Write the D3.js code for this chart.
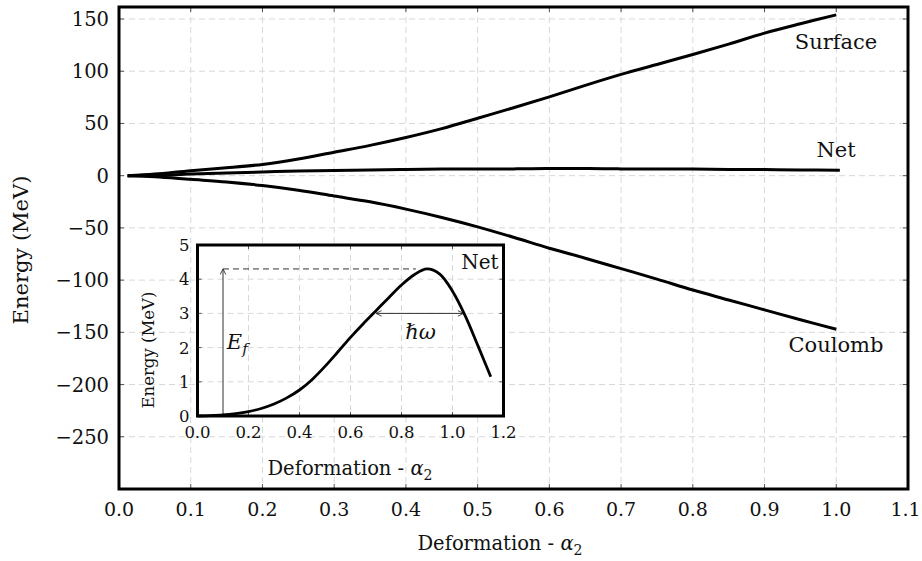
<!DOCTYPE html>
<html><head><meta charset="utf-8">
<script src="https://cdn.jsdelivr.net/npm/d3@7"></script>
<style>body{margin:0;background:#fff}svg{display:block}text{font-family:"DejaVu Serif",serif;fill:#111}</style>
</head><body><svg id="c" width="922" height="561"></svg>
<script>
// Main chart data
const mainX = [0.012,0.05,0.1,0.15,0.2,0.25,0.3,0.35,0.4,0.45,0.5,0.55,0.6,0.65,0.7,0.75,0.8,0.85,0.9,0.95,1.0];
const surface = [0,1.5,4.8,7.5,10.8,16,22.5,29,36.5,45,55,65,75.5,86.5,97,106.5,116,126,136.5,145.5,154];
const coulomb = [0,-1,-3.5,-6,-9.5,-14,-19.5,-25,-32,-40,-49,-59,-69.5,-79,-89,-99,-109.5,-119,-128.5,-138,-147];
const netX = [0.012,0.05,0.1,0.15,0.2,0.25,0.3,0.35,0.4,0.45,0.5,0.55,0.6,0.65,0.7,0.75,0.8,0.85,0.9,0.95,1.005];
const net = [0,0.3,1.5,2.5,3.5,4.5,5,5.5,6,6.3,6.5,6.5,6.8,6.8,6.5,6.5,6.3,6,5.8,5.5,5.2];
const mainXTicks = [0,0.1,0.2,0.3,0.4,0.5,0.6,0.7,0.8,0.9,1.0,1.1];
const mainYTicks = [150,100,50,0,-50,-100,-150,-200,-250];
// Inset data
const insetX = [0,0.05,0.1,0.15,0.2,0.25,0.3,0.35,0.4,0.45,0.5,0.55,0.6,0.65,0.7,0.75,0.8,0.85,0.9,0.95,1.0,1.05,1.1,1.15];
const insetNet = [0,0.01,0.03,0.07,0.13,0.22,0.35,0.53,0.76,1.07,1.45,1.87,2.3,2.7,3.08,3.46,3.83,4.13,4.3,4.15,3.65,2.93,2.05,1.15];
const insetXTicks = [0,0.2,0.4,0.6,0.8,1.0,1.2];
const insetYTicks = [0,1,2,3,4,5];
const barrier = 4.3, barrierX = 0.1, peakX = 0.88;
const hwLeft = 0.70, hwRight = 1.043, hwY = 3.0;

const svg = d3.select("#c");
const defs = svg.append("defs");
defs.append("marker").attr("id","ah").attr("viewBox","0 0 10 10").attr("refX",9).attr("refY",5)
  .attr("markerWidth",7).attr("markerHeight",7).attr("orient","auto-start-reverse")
  .append("path").attr("d","M1,1 L9,5 L1,9").attr("fill","none").attr("stroke","#333").attr("stroke-width",1.3);

// ---------- main ----------
const M = {l:119,r:908,t:7,b:489};
const x = d3.scaleLinear().domain([0,1.1]).range([M.l,M.r]);
const y = d3.scaleLinear().domain([-300,161.5]).range([M.b,M.t]);
const g = svg.append("g");
const grid = "#d8d8d8";
g.append("g").selectAll("line").data(mainXTicks.slice(1,-1)).join("line")
  .attr("x1",d=>x(d)).attr("x2",d=>x(d)).attr("y1",M.t).attr("y2",M.b)
  .attr("stroke",grid).attr("stroke-dasharray","6,4");
g.append("g").selectAll("line").data(mainYTicks).join("line")
  .attr("x1",M.l).attr("x2",M.r).attr("y1",d=>y(d)).attr("y2",d=>y(d))
  .attr("stroke",grid).attr("stroke-dasharray","6,4");
const tk = g.append("g").attr("stroke","#555").attr("stroke-width",1);
mainXTicks.forEach(d=>{tk.append("line").attr("x1",x(d)).attr("x2",x(d)).attr("y1",M.b).attr("y2",M.b-5);
  tk.append("line").attr("x1",x(d)).attr("x2",x(d)).attr("y1",M.t).attr("y2",M.t+5);});
mainYTicks.forEach(d=>{tk.append("line").attr("y1",y(d)).attr("y2",y(d)).attr("x1",M.l).attr("x2",M.l+5);
  tk.append("line").attr("y1",y(d)).attr("y2",y(d)).attr("x1",M.r).attr("x2",M.r-5);});
const fmt = d=> d<0 ? "\u2212"+Math.abs(d) : String(d);
g.append("g").selectAll("text").data(mainYTicks).join("text")
  .attr("x",M.l-10).attr("y",d=>y(d)).attr("dy","0.36em").attr("text-anchor","end")
  .attr("font-size",19.5).text(fmt);
g.append("g").selectAll("text").data(mainXTicks).join("text")
  .attr("x",(d,i)=>Math.min(x(d),920-14.5)).attr("y",M.b+27).attr("text-anchor","middle")
  .attr("font-size",19).text(d=>d.toFixed(1));
const xl = g.append("text").attr("x",500).attr("y",550).attr("text-anchor","middle").attr("font-size",19.5);
xl.append("tspan").text("Deformation - ");
xl.append("tspan").attr("font-style","italic").text("\u03b1");
xl.append("tspan").attr("font-size",14).attr("dy",5).text("2");
g.append("text").attr("transform","translate(28,250) rotate(-90)").attr("text-anchor","middle")
  .attr("font-size",21).text("Energy (MeV)");
const line = d3.line().x(d=>x(d[0])).y(d=>y(d[1])).curve(d3.curveCatmullRom);
[[mainX,surface],[mainX,coulomb],[netX,net]].forEach(([xs,ys])=>{
  g.append("path").datum(xs.map((v,i)=>[v,ys[i]])).attr("d",line)
   .attr("fill","none").attr("stroke","#000").attr("stroke-width",3).attr("stroke-linejoin","round");
});
g.append("text").attr("x",836).attr("y",49).attr("text-anchor","middle").attr("font-size",21).text("Surface");
g.append("text").attr("x",836).attr("y",157).attr("text-anchor","middle").attr("font-size",21).text("Net");
g.append("text").attr("x",836).attr("y",352).attr("text-anchor","middle").attr("font-size",21).text("Coulomb");
g.append("rect").attr("x",M.l).attr("y",M.t).attr("width",M.r-M.l).attr("height",M.b-M.t)
  .attr("fill","none").attr("stroke","#000").attr("stroke-width",3);

// ---------- inset ----------
const I = {l:197.5,r:503.5,t:245,b:416};
const xi = d3.scaleLinear().domain([0,1.2]).range([I.l,I.r]);
const yi = d3.scaleLinear().domain([0,5]).range([I.b,I.t]);
const h = svg.append("g");
h.append("rect").attr("x",I.l).attr("y",I.t).attr("width",I.r-I.l).attr("height",I.b-I.t).attr("fill","#fff");
h.append("g").selectAll("line").data(insetXTicks.slice(1,-1)).join("line")
  .attr("x1",d=>xi(d)).attr("x2",d=>xi(d)).attr("y1",I.t).attr("y2",I.b)
  .attr("stroke",grid).attr("stroke-dasharray","6,4");
h.append("g").selectAll("line").data(insetYTicks.slice(1,-1)).join("line")
  .attr("x1",I.l).attr("x2",I.r).attr("y1",d=>yi(d)).attr("y2",d=>yi(d))
  .attr("stroke",grid).attr("stroke-dasharray","6,4");
const tki = h.append("g").attr("stroke","#555").attr("stroke-width",1);
insetXTicks.forEach(d=>{tki.append("line").attr("x1",xi(d)).attr("x2",xi(d)).attr("y1",I.b).attr("y2",I.b-4);
  tki.append("line").attr("x1",xi(d)).attr("x2",xi(d)).attr("y1",I.t).attr("y2",I.t+4);});
insetYTicks.forEach(d=>{tki.append("line").attr("y1",yi(d)).attr("y2",yi(d)).attr("x1",I.l).attr("x2",I.l+4);
  tki.append("line").attr("y1",yi(d)).attr("y2",yi(d)).attr("x1",I.r).attr("x2",I.r-4);});
h.append("g").selectAll("text").data(insetYTicks).join("text")
  .attr("x",I.l-8).attr("y",d=>yi(d)).attr("dy","0.36em").attr("text-anchor","end")
  .attr("font-size",16.5).text(d=>d);
h.append("g").selectAll("text").data(insetXTicks).join("text")
  .attr("x",d=>xi(d)).attr("y",I.b+22).attr("text-anchor","middle")
  .attr("font-size",16.5).text(d=>d.toFixed(1));
const xli = h.append("text").attr("x",350).attr("y",475).attr("text-anchor","middle").attr("font-size",19.5);
xli.append("tspan").text("Deformation - ");
xli.append("tspan").attr("font-style","italic").text("\u03b1");
xli.append("tspan").attr("font-size",14).attr("dy",5).text("2");
h.append("text").attr("transform","translate(154,350) rotate(-90)").attr("text-anchor","middle")
  .attr("font-size",16.5).text("Energy (MeV)");
h.append("line").attr("x1",xi(barrierX)).attr("x2",xi(peakX)-6).attr("y1",yi(barrier)).attr("y2",yi(barrier))
  .attr("stroke","#333").attr("stroke-width",1).attr("stroke-dasharray","6,4");
h.append("line").attr("x1",xi(barrierX)).attr("x2",xi(barrierX)).attr("y1",yi(0)).attr("y2",yi(barrier))
  .attr("stroke","#333").attr("stroke-width",1).attr("marker-end","url(#ah)");
h.append("line").attr("x1",xi(hwLeft)).attr("x2",xi(hwRight)).attr("y1",yi(hwY)).attr("y2",yi(hwY))
  .attr("stroke","#333").attr("stroke-width",1).attr("marker-start","url(#ah)").attr("marker-end","url(#ah)");
const ef = h.append("text").attr("x",xi(0.115)).attr("y",yi(1.95)).attr("font-size",21).attr("font-style","italic");
ef.append("tspan").text("E");
ef.append("tspan").attr("font-size",15).attr("dy",5).text("f");
h.append("text").attr("x",xi(0.875)).attr("y",yi(2.25)).attr("text-anchor","middle").attr("font-size",21)
  .attr("font-style","italic").text("\u210f\u03c9");
h.append("text").attr("x",I.r-5).attr("y",yi(4.3)).attr("text-anchor","end").attr("font-size",20).text("Net");
const li = d3.line().x(d=>xi(d[0])).y(d=>yi(d[1])).curve(d3.curveCatmullRom);
h.append("path").datum(insetX.map((v,i)=>[v,insetNet[i]])).attr("d",li)
  .attr("fill","none").attr("stroke","#000").attr("stroke-width",2.8);
h.append("rect").attr("x",I.l).attr("y",I.t).attr("width",I.r-I.l).attr("height",I.b-I.t)
  .attr("fill","none").attr("stroke","#000").attr("stroke-width",3);
</script></body></html>
